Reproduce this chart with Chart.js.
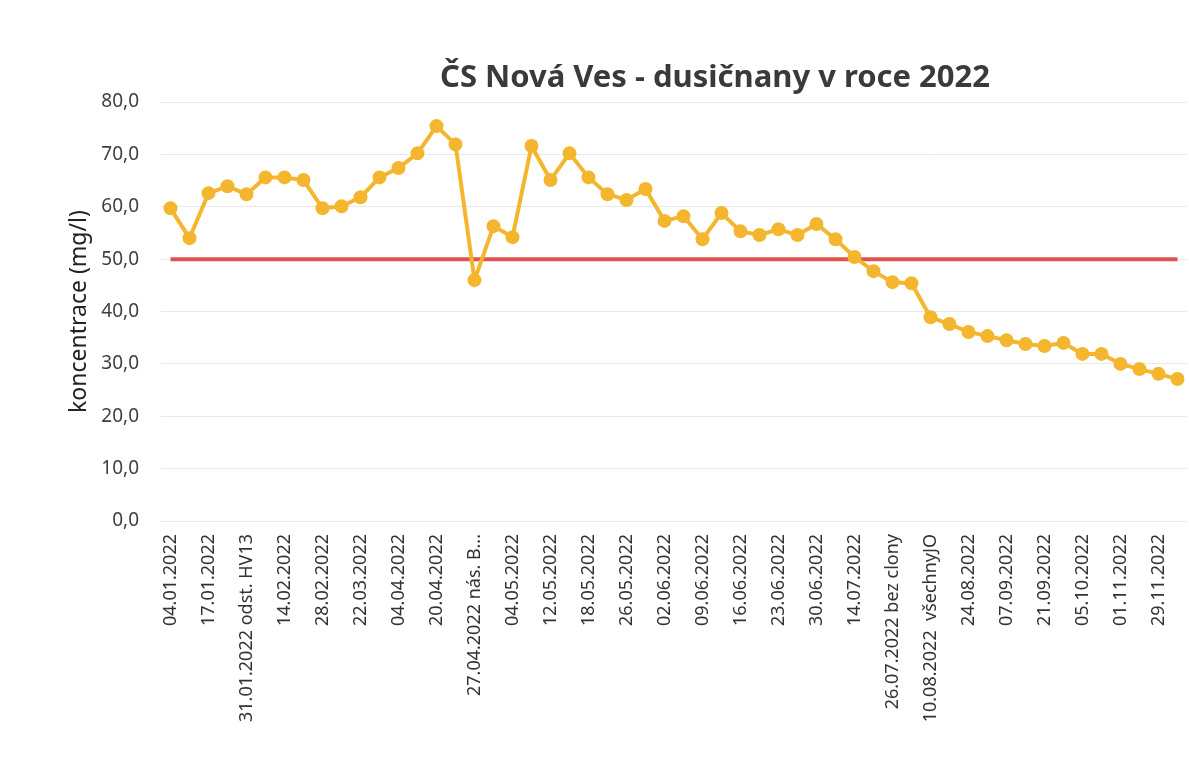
<!DOCTYPE html>
<html>
<head>
<meta charset="utf-8">
<script src="https://cdn.jsdelivr.net/npm/chart.js@4/dist/chart.umd.min.js"></script>
<style>
html,body{margin:0;padding:0;background:#fff;}
#wrap{width:1189px;height:774px;position:relative;}
</style>
</head>
<body>
<div id="wrap"><canvas id="c" width="1189" height="774"></canvas></div>
<script>
const chartTitle = "ČS Nová Ves - dusičnany v roce 2022";
const yAxisTitle = "koncentrace (mg/l)";
const tickLabels = ["04.01.2022","17.01.2022","31.01.2022 odst. HV13","14.02.2022","28.02.2022","22.03.2022","04.04.2022","20.04.2022","27.04.2022 nás. B...","04.05.2022","12.05.2022","18.05.2022","26.05.2022","02.06.2022","09.06.2022","16.06.2022","23.06.2022","30.06.2022","14.07.2022","26.07.2022 bez clony","10.08.2022  všechnyJO","24.08.2022","07.09.2022","21.09.2022","05.10.2022","01.11.2022","29.11.2022"];
const nitrate = [59.7,54.0,62.6,63.9,62.4,65.6,65.6,65.1,59.7,60.1,61.8,65.6,67.4,70.2,75.4,71.9,46.0,56.3,54.2,71.6,65.1,70.2,65.6,62.4,61.3,63.4,57.3,58.2,53.8,58.8,55.3,54.6,55.7,54.6,56.7,53.8,50.4,47.7,45.6,45.4,38.9,37.6,36.1,35.3,34.5,33.8,33.4,34.0,31.9,31.9,30.0,29.0,28.1,27.1];
const limitValue = 50;

// one category per measurement; only every other one carries a visible label
const categories = nitrate.map((v, i) => (i % 2 === 0 && tickLabels[i / 2] !== undefined) ? tickLabels[i / 2] : "");
const limit = nitrate.map(() => limitValue);

const titlePlugin = {
  id: 'sheetTitle',
  afterDraw(chart) {
    const ctx = chart.ctx;
    ctx.save();
    ctx.font = 'bold 31px "Noto Sans"';
    ctx.fillStyle = '#3a3a3a';
    ctx.textAlign = 'center';
    ctx.textBaseline = 'middle';
    ctx.fillText(chartTitle, 715, 78);
    ctx.restore();
  }
};

new Chart(document.getElementById('c'), {
  type: 'line',
  data: {
    labels: categories,
    datasets: [
      {
        label: 'dusičnany',
        data: nitrate,
        borderColor: '#F4B62E',
        backgroundColor: '#F4B62E',
        borderWidth: 4,
        pointRadius: 5,
        pointBackgroundColor: '#F4B62E',
        pointBorderColor: '#F4B62E',
        tension: 0,
        order: 1,
        clip: false
      },
      {
        label: 'limit',
        data: limit,
        borderColor: '#E0534C',
        backgroundColor: '#E0534C',
        borderWidth: 4,
        pointRadius: 0,
        tension: 0,
        order: 2,
        clip: false
      }
    ]
  },
  options: {
    responsive: false,
    animation: false,
    layout: { autoPadding: false, padding: { top: 102, right: 2, left: 0, bottom: 0 } },
    plugins: {
      legend: { display: false },
      title: { display: false },
      tooltip: { enabled: false }
    },
    scales: {
      x: {
        offset: true,
        grid: { display: false, drawTicks: false },
        border: { display: false },
        ticks: {
          autoSkip: false,
          minRotation: 90,
          maxRotation: 90,
          padding: 13,
          color: '#333',
          font: { family: '"Noto Sans"', size: 18 }
        },
        afterFit(scale) { scale.height = 253; scale.paddingLeft = 0; scale.paddingRight = 0; }
      },
      y: {
        min: 0,
        max: 80,
        grid: { color: '#e8e8e8', lineWidth: 1, drawTicks: false },
        border: { display: false },
        ticks: {
          stepSize: 10,
          padding: 22,
          color: '#404040',
          font: { family: '"Noto Sans"', size: 19 },
          callback: v => v.toFixed(1).replace('.', ',')
        },
        title: {
          display: true,
          text: yAxisTitle,
          color: '#222',
          font: { family: '"Noto Sans"', size: 23 },
          padding: { top: 66, bottom: 0 }
        },
        afterFit(scale) { scale.width = 161; }
      }
    }
  },
  plugins: [titlePlugin]
});
</script>
</body>
</html>
